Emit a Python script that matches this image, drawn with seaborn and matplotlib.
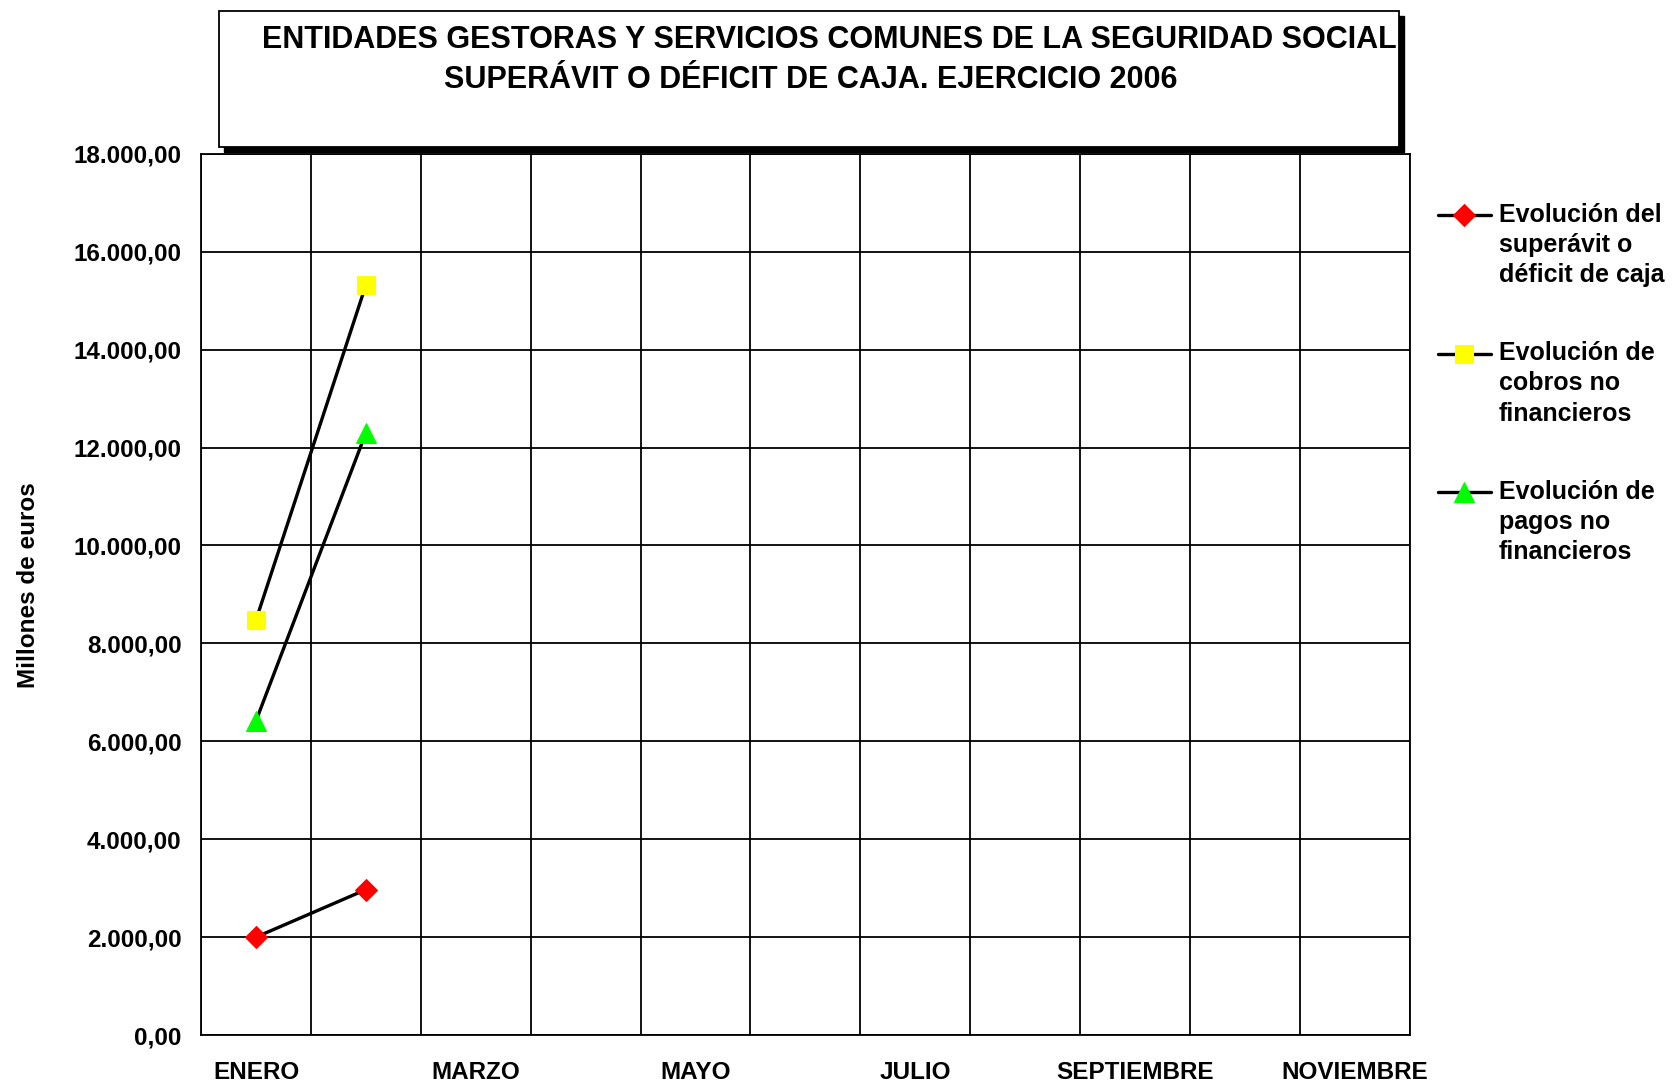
import numpy as np
import pandas as pd
import seaborn as sns
import matplotlib.pyplot as plt
from matplotlib.patches import Rectangle
from matplotlib.ticker import FixedLocator
from matplotlib.legend_handler import HandlerLine2D

# Data (millones de euros); only two months reported
meses = ["ENERO", "FEBRERO", "MARZO", "ABRIL", "MAYO", "JUNIO",
         "JULIO", "AGOSTO", "SEPTIEMBRE", "OCTUBRE", "NOVIEMBRE"]
superavit = [2000, 2970] + [np.nan] * 9
cobros = [8480, 15320] + [np.nan] * 9
pagos = [6420, 12300] + [np.nan] * 9

nombres = ["Evolución del\nsuperávit o\ndéficit de caja",
           "Evolución de\ncobros no\nfinancieros",
           "Evolución de\npagos no\nfinancieros"]
colores = ["#ff0000", "#ffff00", "#00ff00"]
marcadores = ["D", "s", "^"]
tamanos = [11, 13, 14]

y_ticks = list(range(0, 18001, 2000))

titulo_1 = "ENTIDADES GESTORAS Y SERVICIOS COMUNES DE LA SEGURIDAD SOCIAL"
titulo_2 = "SUPERÁVIT O DÉFICIT DE CAJA. EJERCICIO 2006"

df = pd.DataFrame({"mes": np.arange(len(meses)),
                   nombres[0]: superavit, nombres[1]: cobros, nombres[2]: pagos})

sns.set_style("white")
plt.rcParams["font.family"] = ["Liberation Sans", "DejaVu Sans"]
plt.rcParams["font.weight"] = "bold"
for k in ["text.color", "axes.labelcolor", "xtick.color", "ytick.color"]:
    plt.rcParams[k] = "black"


# legend handle next to the first line of a three-line label
class HandlerArriba(HandlerLine2D):
    def __init__(self, dy, **kw):
        super().__init__(**kw)
        self.dy = dy

    def create_artists(self, legend, orig_handle, xdescent, ydescent, width, height, fontsize, trans):
        arts = super().create_artists(legend, orig_handle, xdescent, ydescent, width, height, fontsize, trans)
        for a in arts:
            a.set_ydata(np.asarray(a.get_ydata(), dtype=float) + self.dy)
        return arts


fig = plt.figure(figsize=(16.76, 10.83), dpi=100)
ax = fig.add_axes([0.120, 0.0443, 0.721, 0.8137])

for nombre, c, m, s in zip(nombres, colores, marcadores, tamanos):
    sns.lineplot(data=df, x="mes", y=nombre, ax=ax, color="black", linewidth=2.4,
                 marker=m, markersize=s, markerfacecolor=c, markeredgecolor=c,
                 label=nombre, zorder=3)

ax.set_xlim(-0.5, len(meses) - 0.5)
ax.set_ylim(0, 18000)

# category labels every other month, gridlines at category boundaries
ax.set_xticks(np.arange(0, len(meses), 2))
ax.set_xticklabels(meses[::2], fontsize=17.5, fontweight="bold")
ax.xaxis.set_minor_locator(FixedLocator(np.arange(-0.5, len(meses), 1)))
ax.tick_params(axis="x", which="major", length=0, pad=19)
ax.tick_params(axis="x", which="minor", length=8, width=1.3, color="black", direction="out")

ax.set_yticks(y_ticks)
ax.set_yticklabels([f"{v:,.2f}".replace(",", "X").replace(".", ",").replace("X", ".")
                    for v in y_ticks], fontsize=17.5, fontweight="bold")
ax.tick_params(axis="y", length=8, width=1.3, color="black", direction="out", pad=6)

ax.grid(False)
ax.grid(True, axis="x", which="minor", color="black", linewidth=1.3)
ax.grid(True, axis="y", which="major", color="black", linewidth=1.3)
for sp in ax.spines.values():
    sp.set_color("black")
    sp.set_linewidth(1.3)

ax.set_xlabel("")
ax.set_ylabel("Millones de euros", fontsize=17.5, fontweight="bold")
ax.yaxis.set_label_coords(-0.133, 0.511)

handles, labels = ax.get_legend_handles_labels()
leg = ax.legend(handles, labels, loc="upper left", bbox_to_anchor=(0.858, 0.813),
                bbox_transform=fig.transFigure, frameon=False, fontsize=18,
                handlelength=2.1, handletextpad=0.33, labelspacing=2.16,
                borderpad=0, borderaxespad=0,
                handler_map={h: HandlerArriba(22) for h in handles})
for t in leg.get_texts():
    t.set_linespacing(1.33)
    t.set_fontweight("bold")

# title box with shadow
W, H = 1676, 1083
fig.patches.append(Rectangle((224 / W, 1 - 152 / H), 1180 / W, 136 / H, transform=fig.transFigure,
                             facecolor="black", edgecolor="black", zorder=5))
fig.patches.append(Rectangle((219 / W, 1 - 147 / H), 1180 / W, 136 / H, transform=fig.transFigure,
                             facecolor="white", edgecolor="black", linewidth=1.3, zorder=6))
fig.text(829 / W, 1 - 40 / H, titulo_1, ha="center", va="center", fontsize=22,
         fontweight="bold", zorder=7)
fig.text(811 / W, 1 - 80 / H, titulo_2, ha="center", va="center", fontsize=22,
         fontweight="bold", zorder=7)

fig.savefig("out.png", dpi=100)
